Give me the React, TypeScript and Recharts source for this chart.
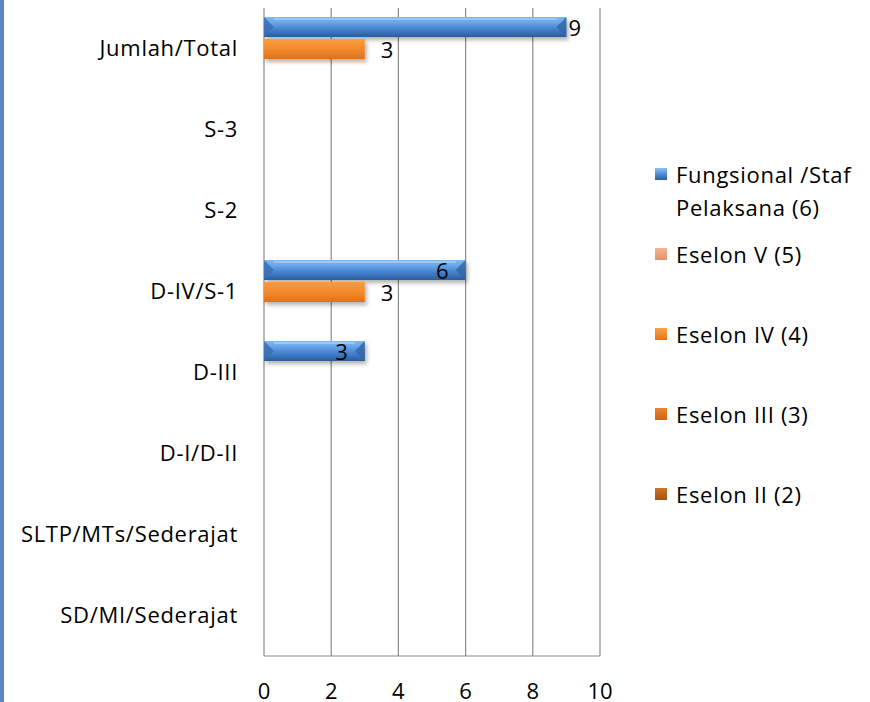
import React from 'react';
import { BarChart, Bar, XAxis, YAxis, CartesianGrid, Legend, LabelList } from 'recharts';

const categories = [
  'Jumlah/Total',
  'S-3',
  'S-2',
  'D-IV/S-1',
  'D-III',
  'D-I/D-II',
  'SLTP/MTs/Sederajat',
  'SD/MI/Sederajat',
];
const fungsional = [9, null, null, 6, 3, null, null, null];
const eselonV = [null, null, null, null, null, null, null, null];
const eselonIV = [3, null, null, 3, null, null, null, null];
const eselonIII = [null, null, null, null, null, null, null, null];
const eselonII = [null, null, null, null, null, null, null, null];
const xTicks = [0, 2, 4, 6, 8, 10];

const seriesNames = {
  f: 'Fungsional /Staf Pelaksana (6)',
  e5: 'Eselon V (5)',
  e4: 'Eselon IV (4)',
  e3: 'Eselon III (3)',
  e2: 'Eselon II (2)',
};

const data = categories.map((name, i) => ({
  name,
  f: fungsional[i],
  e5: eselonV[i],
  e4: eselonIV[i],
  e3: eselonIII[i],
  e2: eselonII[i],
}));

const FONT = '"Open Sans", sans-serif';
const LS = 0.7;

const legendItems = [
  { key: 'f', grad: 'linear-gradient(#8cc2f3, #4a87d2 55%, #2c5d9b)' },
  { key: 'e5', grad: 'linear-gradient(#f6b497, #e0916a)' },
  { key: 'e4', grad: 'linear-gradient(#fca045, #e2751f)' },
  { key: 'e3', grad: 'linear-gradient(#ef8429, #c9651a)' },
  { key: 'e2', grad: 'linear-gradient(#cf7428, #a35212)' },
];

const renderLegend = () => (
  <div style={{ fontFamily: FONT, fontSize: 22, lineHeight: '33px', color: '#000', letterSpacing: LS }}>
    {legendItems.map((it) => (
      <div key={it.key} style={{ display: 'flex', alignItems: 'flex-start', height: 80 }}>
        <div
          style={{
            width: 12,
            height: 12,
            marginTop: 10.5,
            marginRight: 9,
            background: it.grad,
            flex: '0 0 auto',
          }}
        />
        <div style={{ width: 192 }}>{(seriesNames as any)[it.key]}</div>
      </div>
    ))}
  </div>
);

const BevelBar = (props: any) => {
  const { x, y, width, height } = props;
  if (!width || width <= 0 || !height) return null;
  const b = Math.min(height / 2, width / 2, 10);
  return (
    <g filter="url(#barShadow)">
      <rect x={x} y={y} width={width} height={height} fill="url(#blueGrad)" />
      <rect x={x + b} y={y + 1} width={Math.max(0, width - 2 * b)} height={2} fill="#a9d3f8" opacity={0.7} />
      <polygon
        points={`${x},${y} ${x + b},${y + height / 2} ${x},${y + height}`}
        fill="#3a6fb3"
        opacity={0.85}
      />
      <polygon
        points={`${x + width},${y} ${x + width - b},${y + height / 2} ${x + width},${y + height}`}
        fill="#3566a6"
        opacity={0.85}
      />
    </g>
  );
};

const PlainBar = (props: any) => {
  const { x, y, width, height, gradId } = props;
  if (!width || width <= 0 || !height) return null;
  return (
    <g filter="url(#barShadow)">
      <rect x={x} y={y} width={width} height={height} fill={`url(#${gradId})`} />
    </g>
  );
};

const blueLabel = (props: any) => {
  const { x, y, width, height, value } = props;
  if (value === null || value === undefined) return null;
  const outside = value >= 8;
  const end = x + width;
  return (
    <text
      x={outside ? end + 2 : end - 17}
      y={y + height / 2}
      textAnchor={outside ? 'start' : 'end'}
      dominantBaseline="central"
      fontFamily={FONT}
      fontSize={22}
      fill="#000"
    >
      {value}
    </text>
  );
};

const orangeLabel = (props: any) => {
  const { x, y, width, height, value } = props;
  if (value === null || value === undefined) return null;
  return (
    <text
      x={x + width + 16}
      y={y + height / 2}
      textAnchor="start"
      dominantBaseline="central"
      fontFamily={FONT}
      fontSize={22}
      fill="#000"
    >
      {value}
    </text>
  );
};

export default function App() {
  return (
    <div style={{ position: 'absolute', left: 0, top: 0, width: 870, height: 702, background: '#fff' }}>
      <div style={{ position: 'absolute', left: 0, top: 0, width: 4, height: 702, background: '#5a86c6' }} />
      <BarChart
        width={870}
        height={702}
        data={data}
        layout="vertical"
        margin={{ top: 8, right: 55, bottom: 0, left: 0 }}
        barSize={20}
        barGap={-9}
      >
        <defs>
          <linearGradient id="blueGrad" x1="0" y1="0" x2="0" y2="1">
            <stop offset="0" stopColor="#7db8f0" />
            <stop offset="0.25" stopColor="#6aa8ec" />
            <stop offset="0.6" stopColor="#4583cf" />
            <stop offset="1" stopColor="#2b5c9a" />
          </linearGradient>
          <linearGradient id="orangeGrad" x1="0" y1="0" x2="0" y2="1">
            <stop offset="0" stopColor="#fb9b3a" />
            <stop offset="0.5" stopColor="#f48a2c" />
            <stop offset="1" stopColor="#dc701e" />
          </linearGradient>
          <linearGradient id="salmonGrad" x1="0" y1="0" x2="0" y2="1">
            <stop offset="0" stopColor="#f6b497" />
            <stop offset="1" stopColor="#e0916a" />
          </linearGradient>
          <linearGradient id="e3Grad" x1="0" y1="0" x2="0" y2="1">
            <stop offset="0" stopColor="#ef8429" />
            <stop offset="1" stopColor="#c9651a" />
          </linearGradient>
          <linearGradient id="e2Grad" x1="0" y1="0" x2="0" y2="1">
            <stop offset="0" stopColor="#cf7428" />
            <stop offset="1" stopColor="#a35212" />
          </linearGradient>
          <filter id="barShadow" x="-5%" y="-30%" width="115%" height="180%">
            <feDropShadow dx="2" dy="3" stdDeviation="2" floodColor="#000" floodOpacity="0.3" />
          </filter>
        </defs>
        <CartesianGrid horizontal={false} stroke="#8a8a8a" strokeWidth={1.2} />
        <XAxis
          type="number"
          domain={[0, 10]}
          ticks={xTicks}
          height={46}
          tickLine={false}
          axisLine={{ stroke: '#8a8a8a', strokeWidth: 1.2 }}
          tickMargin={21}
          tick={{ fill: '#000', fontSize: 22, fontFamily: FONT }}
        />
        <YAxis
          type="category"
          dataKey="name"
          width={264}
          interval={0}
          tickLine={false}
          axisLine={false}
          tickMargin={20}
          tick={{ fill: '#000', fontSize: 22, fontFamily: FONT, letterSpacing: LS }}
        />
        <Legend
          layout="vertical"
          align="right"
          verticalAlign="top"
          content={renderLegend}
          wrapperStyle={{ position: 'absolute', left: 655, top: 157.5, width: 215 }}
        />
        <Bar dataKey="f" name={seriesNames.f} isAnimationActive={false} shape={(p: any) => <BevelBar {...p} />}>
          <LabelList dataKey="f" content={blueLabel} />
        </Bar>
        <Bar dataKey="e5" name={seriesNames.e5} isAnimationActive={false} shape={(p: any) => <PlainBar {...p} gradId="salmonGrad" />} />
        <Bar dataKey="e4" name={seriesNames.e4} isAnimationActive={false} shape={(p: any) => <PlainBar {...p} gradId="orangeGrad" />}>
          <LabelList dataKey="e4" content={orangeLabel} />
        </Bar>
        <Bar dataKey="e3" name={seriesNames.e3} isAnimationActive={false} shape={(p: any) => <PlainBar {...p} gradId="e3Grad" />} />
        <Bar dataKey="e2" name={seriesNames.e2} isAnimationActive={false} shape={(p: any) => <PlainBar {...p} gradId="e2Grad" />} />
      </BarChart>
    </div>
  );
}
